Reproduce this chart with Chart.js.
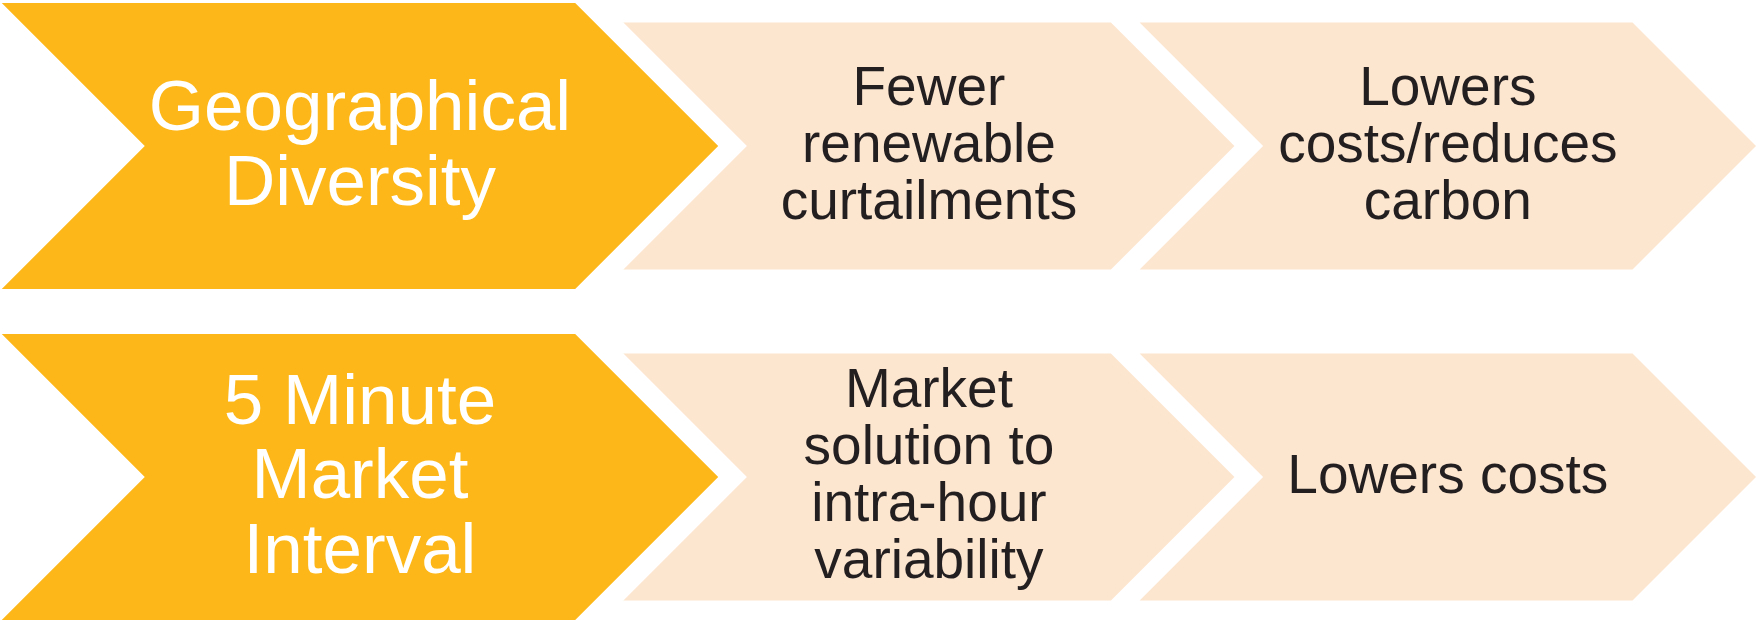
<!DOCTYPE html>
<html>
<head>
<meta charset="utf-8">
<script src="https://cdn.jsdelivr.net/npm/chart.js@4"></script>
<style>
  html, body { margin: 0; padding: 0; background: #ffffff; }
  canvas { display: block; }
</style>
</head>
<body>
<canvas id="chart" width="1756" height="620"></canvas>
<script>
// rows of the flow, top to bottom
const rows = ["Geographical Diversity", "5 Minute Market Interval"];

// text of each stage, one entry per row (one string per line)
const driverText = [["Geographical", "Diversity"], ["5 Minute", "Market", "Interval"]];
const effectText = [["Fewer", "renewable", "curtailments"], ["Market", "solution to", "intra-hour", "variability"]];
const outcomeText = [["Lowers", "costs/reduces", "carbon"], ["Lowers costs"]];

// horizontal span of each stage, in % of the width
const stageStart = [0.1, 35.5, 64.9];
const stageEnd = [40.9, 70.3, 100];

const stageTexts = [driverText, effectText, outcomeText];
const stageColors = ["#fdb718", "#fde6d0"];
const textColors = ["#ffffff", "#231f20"];

const makeDataset = (stage) => ({
  label: "Stage " + (stage + 1),
  data: rows.map((_, r) => ({ x: [stageStart[stage], stageEnd[stage]], y: r })),
  texts: stageTexts[stage],
  backgroundColor: stage === 0 ? stageColors[0] : stageColors[1],
  textColor: stage === 0 ? textColors[0] : textColors[1],
  fontSize: stage === 0 ? 71 : 55,
  lineHeight: stage === 0 ? 74.5 : 57,
  barThickness: stage === 0 ? 286 : 247,
  grouped: false,
  borderWidth: 0,
});

// draw each bar as a chevron and write its text in the middle
const chevronPlugin = {
  id: "chevrons",
  beforeDatasetDraw(chart, args) {
    const ctx = chart.ctx;
    const ds = chart.data.datasets[args.index];
    args.meta.data.forEach((bar, i) => {
      const { x, base, y, height } = bar.getProps(["x", "base", "y", "height"], true);
      const left = Math.min(x, base);
      const right = Math.max(x, base);
      const half = height / 2;
      ctx.save();
      ctx.fillStyle = ds.backgroundColor;
      ctx.beginPath();
      ctx.moveTo(left, y - half);
      ctx.lineTo(right - half, y - half);
      ctx.lineTo(right, y);
      ctx.lineTo(right - half, y + half);
      ctx.lineTo(left, y + half);
      ctx.lineTo(left + half, y);
      ctx.closePath();
      ctx.fill();

      const lines = ds.texts[i];
      ctx.fillStyle = ds.textColor;
      ctx.font = ds.fontSize + 'px "Liberation Sans", Arial, sans-serif';
      ctx.textAlign = "center";
      ctx.textBaseline = "alphabetic";
      const cx = (left + right) / 2;
      const cap = ds.fontSize * 0.716;
      lines.forEach((line, k) => {
        const by = y + (k - (lines.length - 1) / 2) * ds.lineHeight + cap / 2 - 4;
        ctx.fillText(line, cx, by);
      });
      ctx.restore();
    });
    return false;
  },
};

new Chart(document.getElementById("chart"), {
  type: "bar",
  data: {
    labels: rows,
    datasets: [0, 1, 2].map(makeDataset),
  },
  options: {
    indexAxis: "y",
    responsive: false,
    animation: false,
    layout: { padding: 0 },
    plugins: {
      legend: { display: false },
      tooltip: { enabled: false },
    },
    scales: {
      x: { type: "linear", min: 0, max: 100, display: false },
      y: { type: "linear", min: -0.441, max: 1.432, reverse: true, offset: false, display: false },
    },
  },
  plugins: [chevronPlugin],
});
</script>
</body>
</html>
